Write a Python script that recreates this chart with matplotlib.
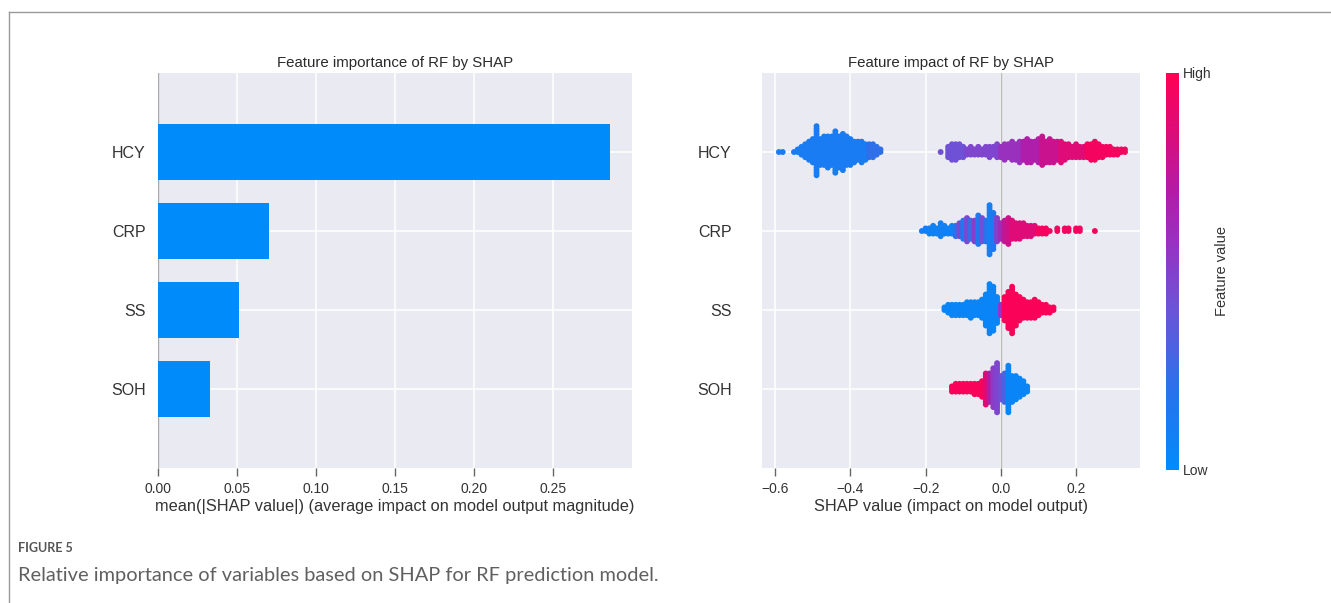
import numpy as np
import matplotlib
matplotlib.use("Agg")
import matplotlib.pyplot as plt
from matplotlib.colors import LinearSegmentedColormap
from matplotlib.cm import ScalarMappable
from matplotlib.lines import Line2D

features = ["HCY", "CRP", "SS", "SOH"]
mean_abs_shap = [0.286, 0.070, 0.051, 0.033]

# beeswarm data: SHAP values binned every 0.01 starting at *_start,
# number of samples per bin and mean scaled feature value per bin (0 = low, 1 = high)
hcy_start = -0.59
hcy_counts = ([1, 1, 0, 0, 1, 2, 4, 6, 8, 10, 20, 11, 12, 13, 12, 17, 13, 15, 12, 11,
               9, 8, 9, 7, 6, 6, 4, 2]
              + [0] * 15
              + [1, 0, 5, 7, 7, 6, 5, 3, 4, 3, 4, 3, 4, 5, 4, 6, 5, 7, 6, 8,
                 7, 9, 8, 10, 9, 8, 10, 12, 9, 10, 9, 8, 9, 7, 6, 5, 6, 5, 5, 6,
                 7, 8, 6, 5, 4, 4, 3, 3, 2, 2])
hcy_values = ([0.12] * 24 + [0.22] * 4 + [0.5] * 15
              + [0.42] * 7 + [0.48] * 9 + [0.58] * 6 + [0.68] * 5
              + [0.78] * 5 + [0.86] * 7 + [0.95] * 11)

crp_start = -0.21
crp_counts = [1, 2, 3, 4, 3, 6, 4, 3, 4, 5, 6, 8, 10, 8, 9, 12, 10, 9, 20, 15,
              10, 7, 9, 11, 8, 7, 7, 6, 5, 5, 4, 3, 3, 3, 1, 0, 2, 0, 2, 2,
              0, 2, 2, 0, 0, 0, 1]
crp_values = ([0.08] * 9
              + [0.2, 0.45, 0.15, 0.45, 0.25, 0.5, 0.15, 0.42, 0.2]
              + [0.1, 0.15, 0.5, 0.62, 0.75, 0.8]
              + [0.86] * 7 + [0.95] * 16)

ss_start = -0.15
ss_counts = [2, 4, 5, 5, 5, 5, 6, 7, 6, 6, 8, 13, 20, 18, 11, 5, 10, 15, 19, 13,
             10, 8, 7, 7, 8, 6, 4, 4, 3, 2]
ss_values = [0.05] * 15 + [0.55] + [0.98] * 14

soh_start = -0.13
soh_counts = [3, 4, 4, 4, 4, 4, 5, 5, 7, 13, 12, 16, 20, 10, 12, 19, 11, 10, 8, 6, 3]
soh_values = ([0.97] * 9 + [0.88, 0.7, 0.52, 0.48, 0.42, 0.3] + [0.05] * 6)

swarm = [(hcy_start, hcy_counts, hcy_values),
         (crp_start, crp_counts, crp_values),
         (ss_start, ss_counts, ss_values),
         (soh_start, soh_counts, soh_values)]

red_blue = LinearSegmentedColormap.from_list(
    "red_blue",
    [(0.0, "#008bfb"), (0.2, "#2a72ec"), (0.4, "#6a55d8"), (0.55, "#9236c4"),
     (0.7, "#b31ba6"), (0.85, "#dc0c7a"), (1.0, "#ff0052")])

BG = "#eaeaf2"
TXT = "#333333"
BAR = "#008bfb"

plt.rcParams["font.family"] = ["Liberation Sans", "DejaVu Sans"]

fig = plt.figure(figsize=(13.31, 6.03), dpi=100)
ax1 = fig.add_axes([0.1187, 0.2239, 0.3561, 0.655])
ax2 = fig.add_axes([0.5725, 0.2239, 0.2840, 0.655])
cax = fig.add_axes([0.876, 0.2206, 0.0098, 0.6584])

n = len(features)
ypos = np.arange(n)[::-1]


def style(ax):
    ax.set_facecolor(BG)
    for s in ax.spines.values():
        s.set_visible(False)
    ax.grid(True, color="white", lw=1.1, zorder=0)
    ax.set_axisbelow(True)
    ax.tick_params(axis="x", direction="out", length=6, width=1, color="#666666",
                   labelsize=10, labelcolor=TXT, pad=4)
    ax.set_ylim(-1, n)
    ax.set_yticks(ypos)
    ax.set_yticklabels(features)


# bar summary
style(ax1)
ax1.barh(ypos, mean_abs_shap, height=0.7, color=BAR, zorder=3)
ax1.axvline(0, color="#aaaaaa", lw=1, zorder=1)
ax1.set_xlim(0, 0.30)
ax1.set_xticks([0.0, 0.05, 0.10, 0.15, 0.20, 0.25])
ax1.set_xticklabels(["0.00", "0.05", "0.10", "0.15", "0.20", "0.25"])
ax1.tick_params(axis="y", length=0, labelsize=11.5, labelcolor=TXT, pad=9)
ax1.set_xlabel("mean(|SHAP value|) (average impact on model output magnitude)",
               fontsize=11.8, color=TXT, labelpad=2)
ax1.set_title("Feature importance of RF by SHAP", fontsize=10.8, color="#2a2a2a", pad=4)

# beeswarm summary
style(ax2)
ax2.axvline(0, color="#bbbbbb", lw=1, zorder=1)
row_height = 0.4
for row, (start, counts, vals) in zip(ypos, swarm):
    xs, ys, cs = [], [], []
    for i, (c, v) in enumerate(zip(counts, vals)):
        for layer in range(c):
            xs.append(round(start + 0.01 * i, 2))
            ys.append(np.ceil(layer / 2) * ((layer % 2) * 2 - 1))
            cs.append(v)
    ys = np.array(ys, dtype=float)
    ys *= 0.9 * (row_height / (np.max(np.abs(ys)) + 1))
    ax2.scatter(xs, row + ys, c=cs, cmap=red_blue, vmin=0, vmax=1, s=18,
                linewidths=0, zorder=3)
ax2.set_xlim(-0.635, 0.37)
ax2.set_xticks([-0.6, -0.4, -0.2, 0.0, 0.2])
ax2.set_xticklabels(["\u22120.6", "\u22120.4", "\u22120.2", "0.0", "0.2"])
ax2.tick_params(axis="y", length=0, labelsize=11.5, labelcolor=TXT, pad=22)
ax2.set_xlabel("SHAP value (impact on model output)", fontsize=11.8, color=TXT, labelpad=2)
ax2.set_title("Feature impact of RF by SHAP", fontsize=10.8, color="#2a2a2a", pad=4)

sm = ScalarMappable(cmap=red_blue)
sm.set_array([0, 1])
cb = fig.colorbar(sm, cax=cax, ticks=[0, 1])
cb.set_ticklabels(["Low", "High"])
cb.outline.set_visible(False)
cb.ax.tick_params(length=0, labelsize=10, labelcolor=TXT, pad=3)
cb.set_label("Feature value", fontsize=10.5, color=TXT, labelpad=2)

# frame and caption
fig.add_artist(Line2D([0.0068, 1.0], [0.980, 0.980], color="#999999", lw=1))
fig.add_artist(Line2D([0.0068, 0.0068], [0.0, 0.980], color="#999999", lw=1))
fig.text(18 / 1331, 1 - 548 / 603, "FIGURE 5", family="Lato", fontsize=9,
         fontweight="bold", color="#555555", va="center")
fig.text(18 / 1331, 1 - 575 / 603,
         "Relative importance of variables based on SHAP for RF prediction model.",
         family="Lato", fontsize=14.4, color="#606060", va="center")

fig.savefig("out.png", dpi=100, facecolor="white")
